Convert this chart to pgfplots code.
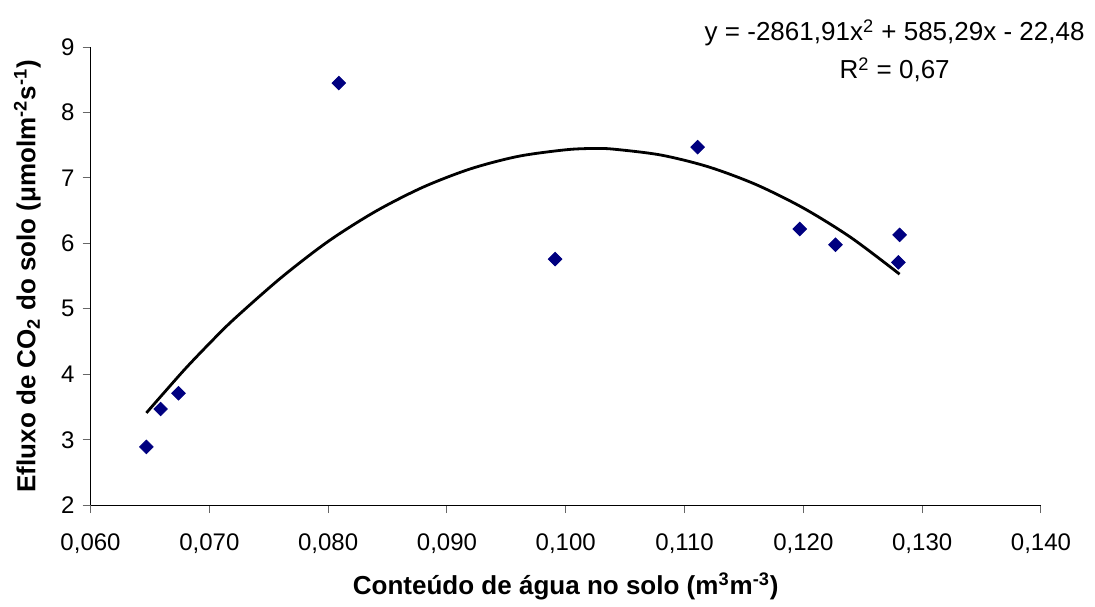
\documentclass[border=0pt]{standalone}
\usepackage{fontspec}
\setmainfont{Liberation Sans}
\usepackage{pgfplots}
\pgfplotsset{compat=1.18}

\definecolor{navy}{RGB}{0,0,128}

\begin{document}
\begin{tikzpicture}
\begin{axis}[
    name=ax,
    scale only axis,
    width=475pt, height=229pt,
    xmin=0.06, xmax=0.14,
    ymin=2, ymax=9,
    axis x line*=bottom,
    axis y line*=left,
    axis line style={black, line width=0.5pt},
    tick style={black!60, line width=0.5pt},
    tick align=outside,
    major tick length=4pt,
    xtick={0.06,0.07,0.08,0.09,0.10,0.11,0.12,0.13,0.14},
    xticklabels={{0,060},{0,070},{0,080},{0,090},{0,100},{0,110},{0,120},{0,130},{0,140}},
    ytick={2,3,4,5,6,7,8,9},
    /pgf/number format/assume math mode=true,
    tick label style={font=\fontsize{12}{14}\selectfont},
    xticklabel style={anchor=center, yshift=-15pt},
    yticklabel style={anchor=east, xshift=-0.5pt},
    xlabel={\bfseries Conteúdo de água no solo (m\textsuperscript{3}m\textsuperscript{-3})},
    ylabel={\bfseries Efluxo de CO\textsubscript{2} do solo (μmolm\textsuperscript{-2}s\textsuperscript{-1})},
    label style={font=\fontsize{13}{15}\selectfont},
    xlabel style={at={(axis description cs:0.5,-0.177)}, anchor=center},
    ylabel style={at={(axis description cs:-0.0665,0.5)}, rotate=0, anchor=center},
    clip=false,
]
% ajuste polinomial (linha de tendencia)
\addplot[black, line width=1.4pt, smooth] coordinates {
  (0.0647,3.41) (0.066,3.68) (0.068,4.09) (0.070,4.47) (0.072,4.83)
  (0.076,5.47) (0.080,6.03) (0.084,6.49) (0.088,6.86) (0.092,7.14)
  (0.096,7.33) (0.100,7.43) (0.1023,7.45) (0.104,7.44) (0.108,7.35)
  (0.112,7.17) (0.116,6.90) (0.120,6.54) (0.124,6.09) (0.1281,5.53)
};
% dados medidos
\addplot[only marks, mark=square*, mark size=2.4pt,
         mark options={rotate=45, fill=navy, draw=navy}] coordinates {
  (0.0647,2.89) (0.0659,3.47) (0.0674,3.71) (0.0809,8.45) (0.0991,5.76)
  (0.1111,7.47) (0.1197,6.22) (0.1227,5.98) (0.1281,6.13) (0.1280,5.71)
};
\end{axis}
\node[anchor=north east, align=center, inner sep=0pt,
      font=\fontsize{13}{19}\selectfont]
  at ([xshift=22pt, yshift=14pt]ax.north east)
  {y = -2861,91x\textsuperscript{2} + 585,29x - 22,48\\R\textsuperscript{2} = 0,67};
\path ([xshift=-45.25pt, yshift=-50.35pt]ax.south west)
  rectangle ([xshift=27pt, yshift=23.5pt]ax.north east);
\end{tikzpicture}
\end{document}
